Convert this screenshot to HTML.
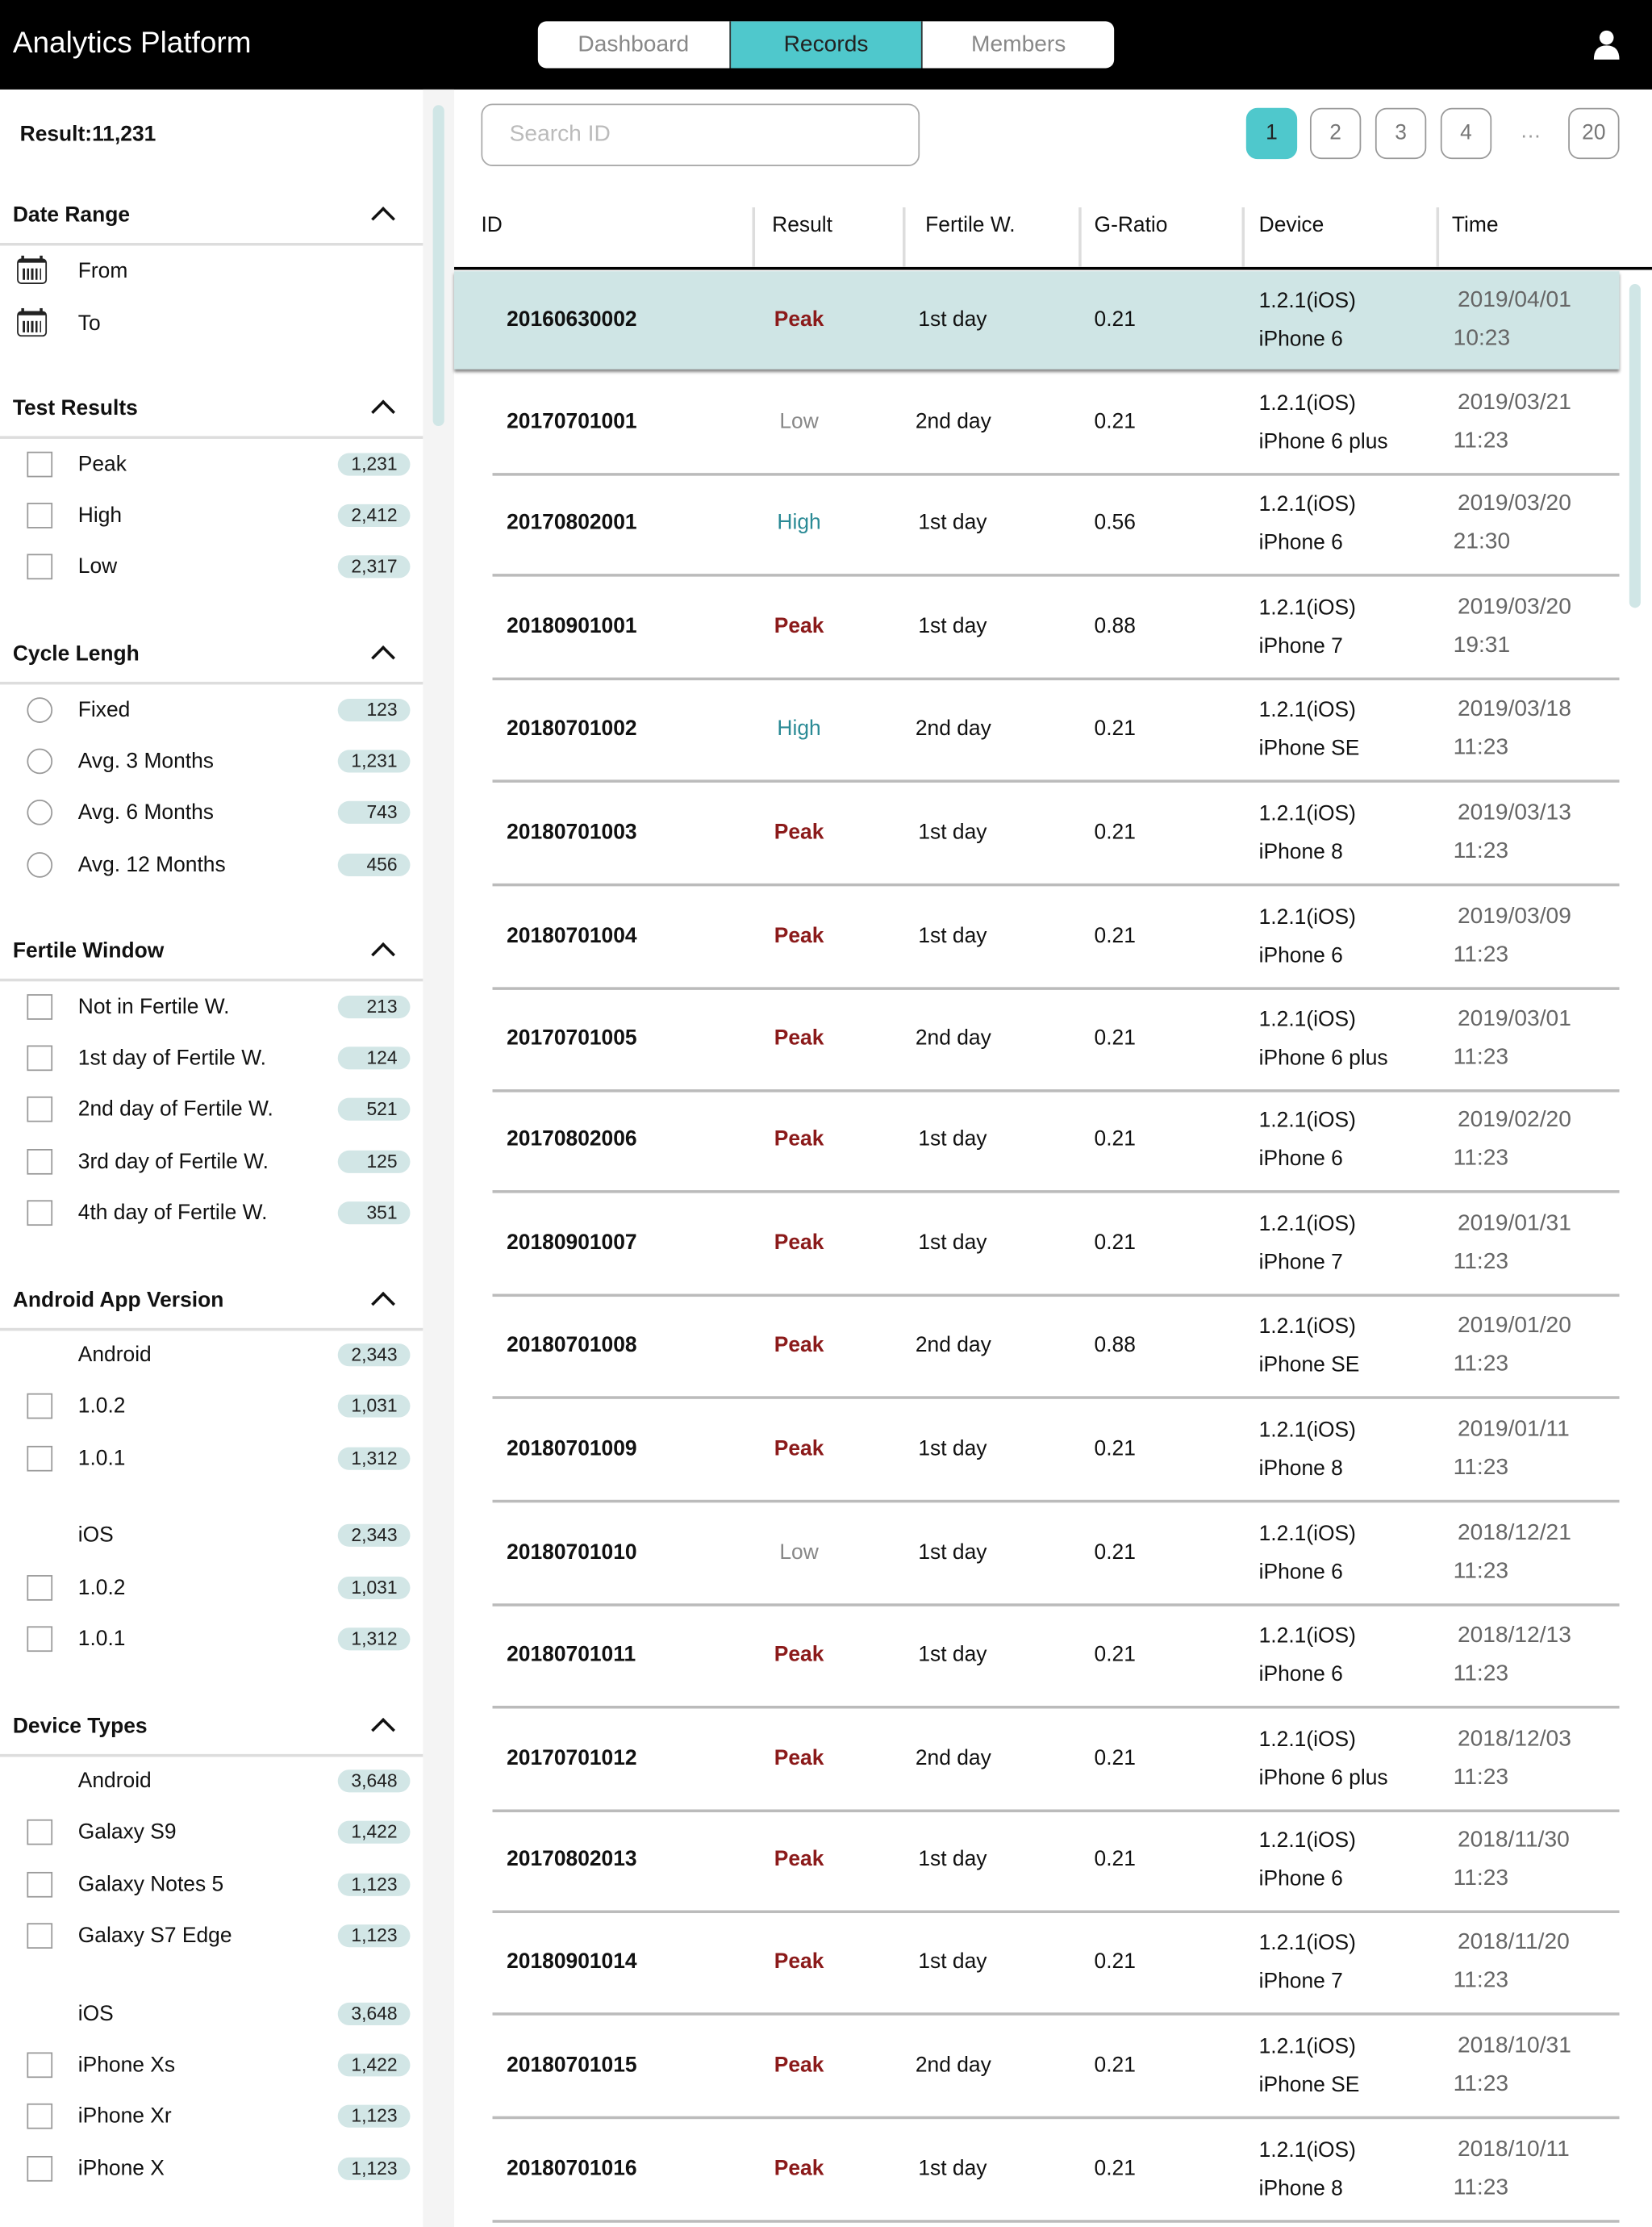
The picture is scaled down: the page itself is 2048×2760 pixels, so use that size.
<!DOCTYPE html>
<html><head><meta charset="utf-8">
<style>
html,body{margin:0;padding:0;background:#fff;width:2048px;height:2760px;overflow:hidden}
#root{position:absolute;left:0;top:0;width:1164px;height:1568px;transform:scale(1.75945,1.7602);transform-origin:0 0;font-family:"Liberation Sans",sans-serif;color:#111;background:#fff}
.a{position:absolute}
.hdr{left:0;top:0;width:1164px;height:63px;background:#000}
.title{left:9px;top:19px;font-size:21px;color:#fff}
.tabs{left:379px;top:15px;width:406px;height:33px;background:#fff;border-radius:6px;overflow:hidden;display:flex}
.tab{flex:1;text-align:center;line-height:33px;font-size:16px;color:#888}
.tab.on{background:#4fc8cc;color:#222;border-left:1px solid #333;border-right:1px solid #333}
.sec{left:9px;font-size:15px;font-weight:bold}
.line{left:0;width:298px;height:2px;background:#ddd}
.chev{left:264px;width:10px;height:10px;border-left:2px solid #111;border-top:2px solid #111;transform:rotate(45deg)}
.lbl{left:55px;font-size:15px;transform:translateY(-50%)}
.cb{left:19px;width:16px;height:16px;border:1.5px solid #999;transform:translateY(-50%)}
.rd{left:19px;width:16px;height:16px;border:1.5px solid #999;border-radius:50%;transform:translateY(-50%)}
.bdg{left:238px;width:51px;height:16px;border-radius:8px;background:#d2e6e6;font-size:13px;line-height:16px;text-align:right;box-sizing:border-box;padding-right:9px;transform:translateY(-50%);color:#222}
.cell{font-size:15px;transform:translateY(-50%);white-space:nowrap}
.pg{width:34px;height:34px;border:1.5px solid #999;border-radius:8px;text-align:center;line-height:34px;font-size:15px;color:#777}
.hd{font-size:15px;top:150px}
.vs{width:2px;height:42px;top:146px;background:#ddd}
</style></head><body>
<div id="root">
<div class="a hdr"></div>
<div class="a title">Analytics Platform</div>
<div class="a tabs">
<div class="tab">Dashboard</div>
<div class="tab on">Records</div>
<div class="tab">Members</div>
</div>
<svg class="a" style="left:1122px;top:21px" width="20" height="21"><circle cx="10" cy="5.5" r="5" fill="#fff"/><path d="M1 21 Q1 11 10 11 Q19 11 19 21Z" fill="#fff"/></svg>

<div class="a" style="left:298px;top:63px;width:22px;height:1505px;background:#f4f4f4"></div>
<div class="a" style="left:305px;top:74px;width:8px;height:226px;background:#d0e6e6;border-radius:4px"></div>
<div class="a" style="left:14px;top:86px;font-size:15px;font-weight:bold">Result:11,231</div>

<div class="a" style="left:339px;top:73px;width:309px;height:44px;border:1.5px solid #aaa;border-radius:8px;box-sizing:border-box"><span class="a" style="left:19px;top:12px;font-size:16px;color:#bbb">Search ID</span></div>

<div class="a" style="left:320px;top:188px;width:844px;height:2px;background:#000"></div>
<div class="a" style="left:320px;top:191px;width:821px;height:69px;background:#cfe5e5;box-shadow:0 2px 2px #888"></div>
<div class="a" style="left:1148px;top:200px;width:8px;height:228px;background:#d0e6e6;border-radius:4px"></div>
</div>
<script>
const root=document.getElementById('root');
function mk(cls,style,text){const d=document.createElement('div');d.className='a '+cls;d.style.cssText=style;if(text!==undefined)d.textContent=text;root.appendChild(d);return d;}
const sections=[
 {t:'Date Range',y:152},{t:'Test Results',y:288},{t:'Cycle Lengh',y:461},{t:'Fertile Window',y:670},{t:'Android App Version',y:916},{t:'Device Types',y:1216}];
sections.forEach(s=>{
 let e=mk('sec','top:'+(s.y-9)+'px',s.t);
 
 
 e=mk('line','top:'+(s.y+19)+'px');
 
 
 e=mk('chev','top:'+(s.y-4)+'px');
 
 
});
[['From',191],['To',228]].forEach(r=>{
 let e=mk('lbl','top:'+r[1]+'px',r[0]);
 
 
 e=mk('', 'left:12px;top:'+(r[1]-9)+'px;width:21px;height:18px;border:1.5px solid #222;border-radius:3px;box-sizing:border-box;border-top-width:3px;background:repeating-linear-gradient(90deg,#222 0 1.5px,transparent 1.5px 3px) 3px 4px/13px 8px no-repeat');
 
 
 e=mk('', 'left:15px;top:'+(r[1]-11)+'px;width:11px;height:3px;border-left:2px solid #222;border-right:2px solid #222');
 
 
});
const items=[
 ['cb','Peak','1,231',327],['cb','High','2,412',363],['cb','Low','2,317',399],
 ['rd','Fixed','123',500],['rd','Avg. 3 Months','1,231',536],['rd','Avg. 6 Months','743',572],['rd','Avg. 12 Months','456',609],
 ['cb','Not in Fertile W.','213',709],['cb','1st day of Fertile W.','124',745],['cb','2nd day of Fertile W.','521',781],['cb','3rd day of Fertile W.','125',818],['cb','4th day of Fertile W.','351',854],
 ['','Android','2,343',954],['cb','1.0.2','1,031',990],['cb','1.0.1','1,312',1027],
 ['','iOS','2,343',1081],['cb','1.0.2','1,031',1118],['cb','1.0.1','1,312',1154],
 ['','Android','3,648',1254],['cb','Galaxy S9','1,422',1290],['cb','Galaxy Notes 5','1,123',1327],['cb','Galaxy S7 Edge','1,123',1363],
 ['','iOS','3,648',1418],['cb','iPhone Xs','1,422',1454],['cb','iPhone Xr','1,123',1490],['cb','iPhone X','1,123',1527]];
items.forEach(it=>{
 let e;
 if(it[0]){e=mk(it[0],'top:'+it[3]+'px');
 
 }
 e=mk('lbl','top:'+it[3]+'px',it[1]);
 
 
 e=mk('bdg','top:'+it[3]+'px',it[2]);
 
 
});
const pages=[['1',878],['2',923],['3',969],['4',1015],['20',1105]];
pages.forEach((p,i)=>{
 let e=mk('pg','left:'+p[1]+'px;top:76px;box-sizing:border-box;width:36px;height:36px;line-height:33px;'+(i==0?'background:#4fc8cc;border-color:#4fc8cc;color:#222;':''),p[0]);
 
 
});
let el=mk('','left:1071px;top:84px;font-size:15px;color:#999','…');


const heads=[['ID',339],['Result',544],['Fertile W.',652],['G-Ratio',771],['Device',887],['Time',1023]];
heads.forEach(h=>{
 let e=mk('hd','left:'+h[1]+'px',h[0]);
 
 
});
[530,636,760,875,1012].forEach(x=>{
 let e=mk('vs','left:'+x+'px');
 
 
});
const ids=['20160630002','20170701001','20170802001','20180901001','20180701002','20180701003','20180701004','20170701005','20170802006','20180901007','20180701008','20180701009','20180701010','20180701011','20170701012','20170802013','20180901014','20180701015','20180701016'];
const results=['Peak','Low','High','Peak','High','Peak','Peak','Peak','Peak','Peak','Peak','Peak','Low','Peak','Peak','Peak','Peak','Peak','Peak'];
const days=['1st day','2nd day','1st day','1st day','2nd day','1st day','1st day','2nd day','1st day','1st day','2nd day','1st day','1st day','1st day','2nd day','1st day','1st day','2nd day','1st day'];
const ratios=['0.21','0.21','0.56','0.88','0.21','0.21','0.21','0.21','0.21','0.21','0.88','0.21','0.21','0.21','0.21','0.21','0.21','0.21','0.21'];
const phones=['iPhone 6','iPhone 6 plus','iPhone 6','iPhone 7','iPhone SE','iPhone 8','iPhone 6','iPhone 6 plus','iPhone 6','iPhone 7','iPhone SE','iPhone 8','iPhone 6','iPhone 6','iPhone 6 plus','iPhone 6','iPhone 7','iPhone SE','iPhone 8'];
const dates=['2019/04/01','2019/03/21','2019/03/20','2019/03/20','2019/03/18','2019/03/13','2019/03/09','2019/03/01','2019/02/20','2019/01/31','2019/01/20','2019/01/11','2018/12/21','2018/12/13','2018/12/03','2018/11/30','2018/11/20','2018/10/31','2018/10/11'];
const times=['10:23','11:23','21:30','19:31','11:23','11:23','11:23','11:23','11:23','11:23','11:23','11:23','11:23','11:23','11:23','11:23','11:23','11:23','11:23'];
const rowCenters=[225,297,368,441,513,586,659,731,802,875,947,1020,1093,1165,1238,1309,1381,1454,1527];
const resColor={Peak:'color:#8b1a1a;font-weight:bold',High:'color:#2a8a95',Low:'color:#888'};
ids.forEach((id,i)=>{
 const y=rowCenters[i];
 let e;
 if(i>0){e=mk('','left:347px;width:794px;height:1.5px;background:#bbb;top:'+(y+36)+'px');
 
 }
 e=mk('cell','left:357px;top:'+y+'px;font-weight:bold',id);
 
 
 e=mk('cell','left:563px;top:'+y+'px;transform:translate(-50%,-50%);'+resColor[results[i]],results[i]);
 
 
 e=mk('cell','left:'+(days[i][0]=='2'?645:647)+'px;top:'+y+'px',days[i]);
 
 
 e=mk('cell','left:771px;top:'+y+'px',ratios[i]);
 
 
 e=mk('cell','left:887px;top:'+(y-13)+'px',"1.2.1(iOS)");
 
 
 e=mk('cell','left:887px;top:'+(y+14)+'px',phones[i]);
 
 
 e=mk('cell','left:1027px;top:'+(y-13)+'px;color:#666;font-size:16px',dates[i]);
 
 
 e=mk('cell','left:1024px;top:'+(y+14)+'px;color:#666;font-size:16px',times[i]);
 
 
});
</script>
</body></html>
